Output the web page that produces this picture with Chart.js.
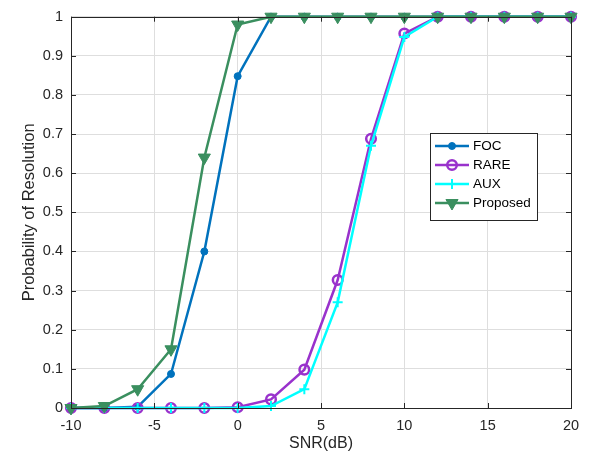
<!DOCTYPE html>
<html><head><meta charset="utf-8">
<script src="https://cdn.jsdelivr.net/npm/chart.js@4"></script>
<style>html,body{margin:0;padding:0;background:#fff}#wrap{width:597px;height:457px}</style>
</head><body><div id="wrap"><canvas id="c" width="597" height="457"></canvas></div>
<script>
const snr = [-10,-8,-6,-4,-2,0,2,4,6,8,10,12,14,16,18,20];
const foc = [0,0,0.003,0.087,0.40,0.848,1,1,1,1,1,1,1,1,1,1];
const rare = [0,0,0,0,0,0.002,0.022,0.098,0.327,0.688,0.957,1,1,1,1,1];
const aux = [0,0,0,0,0,0,0.005,0.048,0.27,0.67,0.948,1,1,1,1,1];
const proposed = [0,0.005,0.048,0.15,0.64,0.98,1,1,1,1,1,1,1,1,1,1];
const seriesNames = ['FOC','RARE','AUX','Proposed'];
const xTicks = [-10,-5,0,5,10,15,20];
const yTicks = [0,0.1,0.2,0.3,0.4,0.5,0.6,0.7,0.8,0.9,1];

const FONT = '"Liberation Sans", Arial, sans-serif';
const pts = a => a.map((v,i)=>({x:snr[i],y:v}));

const frame = {
  id:'frame',
  afterDatasetsDraw(chart){
    const {ctx, chartArea:a, scales:{x,y}} = chart;
    ctx.save();
    ctx.strokeStyle='#262626'; ctx.lineWidth=1;
    ctx.beginPath();
    xTicks.forEach(t=>{const px=Math.round(x.getPixelForValue(t))+0.5;
      ctx.moveTo(px,a.bottom);ctx.lineTo(px,a.bottom-5);
      ctx.moveTo(px,a.top);ctx.lineTo(px,a.top+5);});
    yTicks.forEach(t=>{const py=Math.round(y.getPixelForValue(t))+0.5;
      ctx.moveTo(a.left,py);ctx.lineTo(a.left+5,py);
      ctx.moveTo(a.right,py);ctx.lineTo(a.right-5,py);});
    ctx.stroke();
    ctx.strokeRect(Math.round(a.left)+0.5,Math.round(a.top)+0.5,Math.round(a.right-a.left),Math.round(a.bottom-a.top));
    ctx.restore();
  },
  afterDraw(chart){
    const ctx=chart.ctx;
    const bx=430, by=133, bw=107, bh=87;
    ctx.save();
    ctx.fillStyle='#fff'; ctx.fillRect(bx,by,bw,bh);
    ctx.strokeStyle='#262626'; ctx.lineWidth=1;
    ctx.strokeRect(bx+0.5,by+0.5,bw,bh);
    const rows=[146,165,184,203];
    chart.data.datasets.forEach((ds,i)=>{
      const yy=rows[i];
      ctx.strokeStyle=ds.borderColor; ctx.lineWidth=ds.borderWidth;
      ctx.beginPath(); ctx.moveTo(435,yy); ctx.lineTo(469,yy); ctx.stroke();
      ctx.fillStyle=ds.pointBackgroundColor; ctx.strokeStyle=ds.pointBorderColor;
      ctx.lineWidth=ds.pointBorderWidth;
      Chart.helpers.drawPoint(ctx,{pointStyle:ds.pointStyle,rotation:ds.pointRotation||0,radius:ds.pointRadius,borderWidth:ds.pointBorderWidth},452,yy);
      ctx.fillStyle='#000'; ctx.font='13.5px '+FONT; ctx.textBaseline='middle'; ctx.textAlign='left';
      ctx.fillText(ds.label,473,yy+0.5);
    });
    ctx.restore();
  }
};

new Chart(document.getElementById('c'),{
  type:'line',
  data:{datasets:[
    {label:seriesNames[0],data:pts(foc),borderColor:'#0072BD',backgroundColor:'#0072BD',borderWidth:2.5,pointStyle:'circle',pointRadius:3.5,pointBackgroundColor:'#0072BD',pointBorderColor:'#0072BD',pointBorderWidth:1,order:4,clip:false},
    {label:seriesNames[1],data:pts(rare),borderColor:'#9932CC',backgroundColor:'#9932CC',borderWidth:2.5,pointStyle:'circle',pointRadius:4.8,pointBackgroundColor:'rgba(0,0,0,0)',pointBorderColor:'#9932CC',pointBorderWidth:2.5,order:3,clip:false},
    {label:seriesNames[2],data:pts(aux),borderColor:'#00FFFF',backgroundColor:'#00FFFF',borderWidth:2.5,pointStyle:'cross',pointRadius:5,pointBackgroundColor:'#00FFFF',pointBorderColor:'#00FFFF',pointBorderWidth:2,order:2,clip:false},
    {label:seriesNames[3],data:pts(proposed),borderColor:'#3A8F5F',backgroundColor:'#3A8F5F',borderWidth:2.5,pointStyle:'triangle',pointRotation:180,pointRadius:7,pointBackgroundColor:'#3A8F5F',pointBorderColor:'#3A8F5F',pointBorderWidth:1,order:1,clip:false}
  ]},
  options:{
    responsive:false, animation:false,
    layout:{padding:{top:15,right:26,left:0,bottom:0}},
    plugins:{legend:{display:false},tooltip:{enabled:false}},
    elements:{line:{tension:0}},
    scales:{
      x:{type:'linear',min:-10,max:20,
        afterBuildTicks:s=>{s.ticks=xTicks.map(v=>({value:v}));},
        afterFit:s=>{s.height=49;},
        grid:{color:'#dedede',lineWidth:1,drawTicks:false},border:{display:false},
        ticks:{padding:9,color:'#262626',font:{family:FONT,size:14.5},maxRotation:0},
        title:{display:true,text:'SNR(dB)',color:'#262626',font:{family:FONT,size:16},padding:{top:0}}},
      y:{type:'linear',min:0,max:1,
        afterBuildTicks:s=>{s.ticks=yTicks.map(v=>({value:v}));},
        afterFit:s=>{s.width=71;},
        grid:{color:'#dedede',lineWidth:1,drawTicks:false},border:{display:false},
        ticks:{padding:8,color:'#262626',font:{family:FONT,size:14.5},callback:v=>String(Math.round(v*10)/10)},
        title:{display:true,text:'Probability of Resolution',color:'#262626',font:{family:FONT,size:16.5},padding:{top:20,bottom:0}}}
    }
  },
  plugins:[frame]
});
</script></body></html>
